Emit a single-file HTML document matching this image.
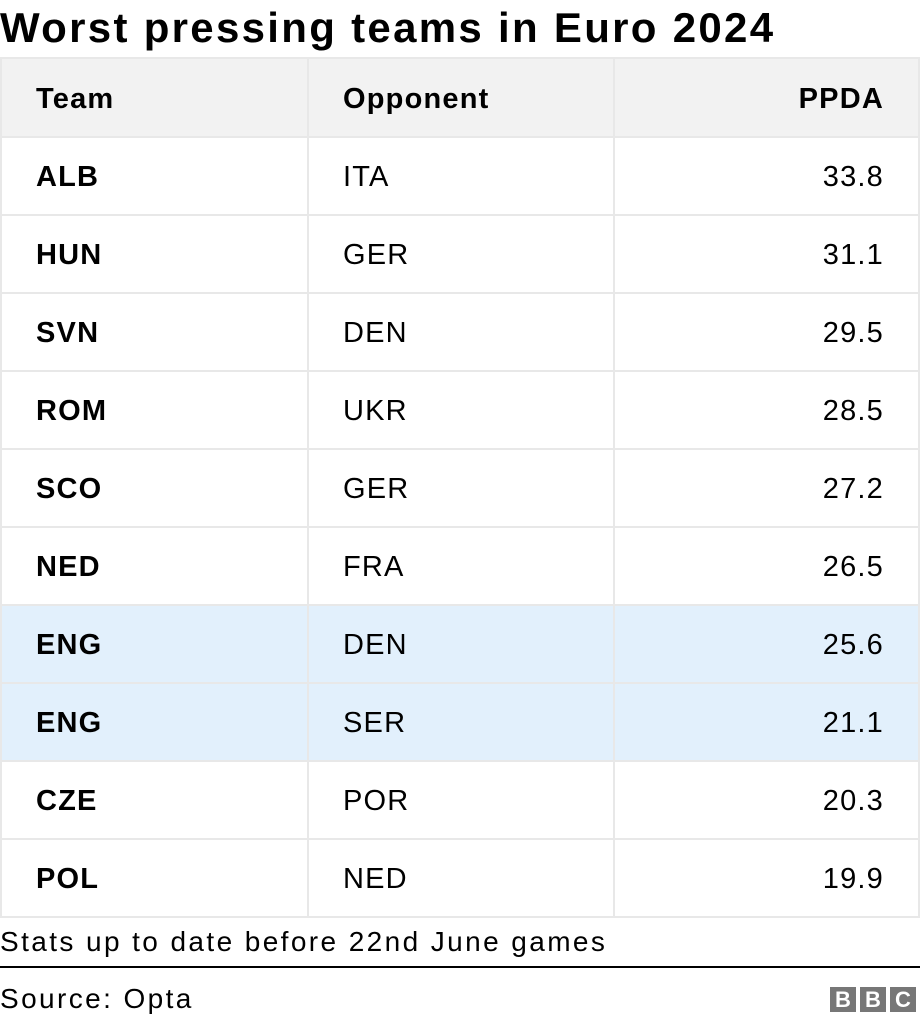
<!DOCTYPE html>
<html><head><meta charset="utf-8"><style>
*{margin:0;padding:0;box-sizing:border-box}
body{width:920px;height:1022px;background:#fff;font-family:"Liberation Sans",sans-serif;color:#000;position:relative;overflow:hidden}
h1{position:absolute;left:0;top:4px;font-size:42px;font-weight:bold;letter-spacing:2.3px;line-height:48px}
table{position:absolute;left:0;top:57px;width:920px;border-collapse:collapse}
td,th{height:78px;border:2px solid #e8e8e8;font-size:29px;padding:3px 34px 0 34px;text-align:left;letter-spacing:1.2px}
th{background:#f2f2f2;height:79px}
td:first-child{font-weight:bold}
td:nth-child(1),th:nth-child(1){width:307px}
td:nth-child(2),th:nth-child(2){width:306px}
td:last-child,th:last-child{text-align:right;padding-right:34px}
tr.hl td{background:#e2f0fc}
.note{position:absolute;left:0;top:926px;font-size:28px;letter-spacing:2.4px}
.rule{position:absolute;left:0;top:966px;width:920px;height:2px;background:#000}
.src{position:absolute;left:0;top:983px;font-size:28px;letter-spacing:2.4px}
.bbc{position:absolute;left:830px;top:987px;display:flex;gap:4px}
.bbc span{width:26px;height:25px;background:#777;color:#fff;font-weight:bold;font-size:22px;text-align:center;line-height:25px}
</style></head><body>
<h1>Worst pressing teams in Euro 2024</h1>
<table>
<tr><th>Team</th><th>Opponent</th><th>PPDA</th></tr>
<tr><td>ALB</td><td>ITA</td><td>33.8</td></tr>
<tr><td>HUN</td><td>GER</td><td>31.1</td></tr>
<tr><td>SVN</td><td>DEN</td><td>29.5</td></tr>
<tr><td>ROM</td><td>UKR</td><td>28.5</td></tr>
<tr><td>SCO</td><td>GER</td><td>27.2</td></tr>
<tr><td>NED</td><td>FRA</td><td>26.5</td></tr>
<tr class="hl"><td>ENG</td><td>DEN</td><td>25.6</td></tr>
<tr class="hl"><td>ENG</td><td>SER</td><td>21.1</td></tr>
<tr><td>CZE</td><td>POR</td><td>20.3</td></tr>
<tr><td>POL</td><td>NED</td><td>19.9</td></tr>
</table>
<div class="note">Stats up to date before 22nd June games</div>
<div class="rule"></div>
<div class="src">Source: Opta</div>
<div class="bbc"><span>B</span><span>B</span><span>C</span></div>
</body></html>
